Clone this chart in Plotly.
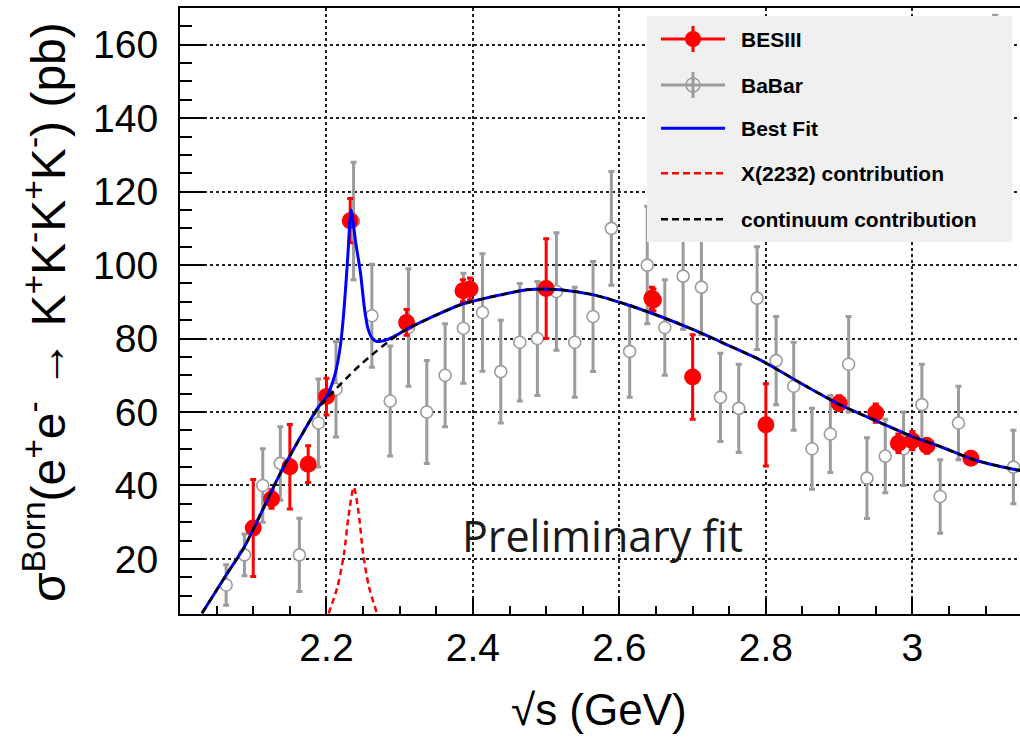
import plotly.graph_objects as go

# ---------------- data ----------------
# BESIII measurements: sqrt(s) [GeV], cross section [pb], uncertainty [pb]
bes_x = [2.1000, 2.1250, 2.1500, 2.1750, 2.2000, 2.2324, 2.3094, 2.3864, 2.3960, 2.5000,
         2.6444, 2.6464, 2.7000, 2.8000, 2.9000, 2.9500, 2.9810, 3.0000, 3.0200, 3.0800]
bes_y = [28.4, 36.3, 45.1, 45.8, 64.2, 112.1, 84.4, 93.0, 93.5, 93.6,
         91.0, 90.5, 69.5, 56.5, 62.4, 59.7, 51.5, 52.2, 50.8, 47.4]
bes_err = [13.2, 2.5, 11.5, 5.0, 5.0, 6.0, 3.5, 3.0, 3.0, 13.6,
           3.0, 3.0, 11.5, 11.2, 2.0, 2.5, 2.5, 2.5, 2.0, 1.5]

# BaBar measurements
babar_x = [2.063, 2.088, 2.113, 2.137, 2.163, 2.189, 2.213, 2.237, 2.262, 2.287,
           2.312, 2.337, 2.362, 2.387, 2.413, 2.438, 2.464, 2.488, 2.514, 2.539,
           2.564, 2.589, 2.614, 2.638, 2.662, 2.687, 2.712, 2.738, 2.763, 2.788,
           2.814, 2.838, 2.863, 2.888, 2.913, 2.938, 2.963, 2.988, 3.013, 3.038,
           3.063, 3.113, 3.138]
babar_y = [12.9, 21.1, 40.0, 46.0, 21.1, 57.0, 66.2, 112.0, 86.2, 63.0,
           83.0, 60.0, 70.0, 82.8, 87.1, 71.0, 79.0, 80.0, 92.8, 79.0,
           86.0, 110.0, 76.5, 100.0, 83.0, 97.0, 94.0, 64.0, 61.0, 91.0,
           74.0, 67.0, 50.0, 54.0, 73.0, 42.0, 48.0, 50.0, 62.0, 37.0,
           57.0, 145.0, 45.0]
babar_err = [5.5, 5.7, 10.0, 10.0, 10.0, 12.0, 13.0, 16.0, 14.0, 15.0,
             16.0, 14.0, 14.0, 15.0, 16.0, 14.0, 16.0, 15.5, 16.0, 15.0,
             15.0, 15.5, 12.5, 16.0, 13.0, 14.5, 13.0, 12.0, 12.0, 14.0,
             12.0, 12.0, 11.0, 10.5, 13.0, 11.0, 10.0, 10.0, 11.0, 10.0,
             10.0, 23.0, 10.0]

# continuum component of the fit
cont_x = [2.030, 2.063, 2.088, 2.137, 2.187, 2.201, 2.246, 2.301, 2.383, 2.438,
          2.474, 2.519, 2.565, 2.611, 2.656, 2.701, 2.747, 2.792, 2.856, 2.902,
          2.947, 3.000, 3.038, 3.084, 3.138, 3.150]
cont_y = [5.2, 15.6, 23.3, 43.3, 60.6, 63.8, 72.8, 81.5, 89.2, 91.9,
          93.3, 93.3, 91.9, 89.2, 86.0, 82.4, 78.3, 74.2, 66.9, 61.9,
          57.9, 53.3, 50.6, 47.0, 44.4, 44.0]

# total fit (continuum + X(2232) with interference)
fit_x = [2.030, 2.063, 2.088, 2.137, 2.187, 2.201, 2.212, 2.219, 2.224, 2.229,
         2.2337, 2.2400, 2.2464, 2.2520, 2.2570, 2.2624, 2.269, 2.283, 2.2965, 2.310,
         2.383, 2.438, 2.474, 2.519, 2.565, 2.611, 2.656, 2.701, 2.747, 2.792,
         2.856, 2.902, 2.947, 3.000, 3.038, 3.084, 3.138, 3.150]
fit_y = [5.2, 15.6, 23.3, 43.3, 60.8, 64.5, 70.5, 78.0, 88.0, 102.0,
         115.0, 106.0, 98.0, 88.0, 82.5, 80.1, 79.2, 79.7, 81.0, 82.6,
         89.2, 91.9, 93.3, 93.3, 91.9, 89.2, 86.0, 82.4, 78.3, 74.2,
         66.9, 61.9, 57.9, 53.3, 50.6, 47.0, 44.4, 44.0]

# X(2232) resonance contribution
res_x = [2.203, 2.215, 2.224, 2.230, 2.2373, 2.244, 2.250, 2.258, 2.269]
res_y = [5.2, 12.4, 21.5, 31.5, 39.5, 32.4, 21.5, 12.4, 5.2]

x_tickvals = [2.2, 2.4, 2.6, 2.8, 3.0]
x_ticktext = ["2.2", "2.4", "2.6", "2.8", "3"]
y_tickvals = [20, 40, 60, 80, 100, 120, 140, 160]

legend_labels = ["BESIII", "BaBar", "Best Fit", "X(2232) contribution", "continuum contribution"]

# ---------------- figure ----------------
FONT = "Liberation Sans, Arial, Helvetica, sans-serif"
GRAY = "#9c9c9c"

fig = go.Figure()

fig.add_trace(go.Scatter(
    x=babar_x, y=babar_y, mode="markers",
    marker=dict(symbol="circle", size=12, color="white", line=dict(color=GRAY, width=1.6)),
    error_y=dict(type="data", array=babar_err, color=GRAY, thickness=3, width=3),
    showlegend=False,
))

fig.add_trace(go.Scatter(
    x=bes_x, y=bes_y, mode="markers",
    marker=dict(symbol="circle", size=17, color="#ff0000"),
    error_y=dict(type="data", array=bes_err, color="#ff0000", thickness=3, width=3),
    showlegend=False,
))

fig.add_trace(go.Scatter(
    x=fit_x, y=fit_y, mode="lines",
    line=dict(color="#0000ff", width=3, shape="spline", smoothing=0.7),
    showlegend=False,
))

fig.add_trace(go.Scatter(
    x=cont_x, y=cont_y, mode="lines",
    line=dict(color="black", width=2.5, dash="7px,5px", shape="spline", smoothing=0.7),
    showlegend=False,
))

fig.add_trace(go.Scatter(
    x=res_x, y=res_y, mode="lines",
    line=dict(color="#ff0000", width=2.5, dash="6px,4px", shape="spline", smoothing=0.8),
    showlegend=False,
))

# ---------------- legend box (drawn by hand to show error-bar glyphs) ----------------
L, T, PW, PH = 180, 8, 840, 606


def px(xp):
    return (xp - L) / PW


def py(yp):
    return (T + PH - yp) / PH


shapes = [dict(type="rect", xref="paper", yref="paper",
               x0=px(647), x1=px(1012), y0=py(242), y1=py(16),
               fillcolor="#f0f0f0", line=dict(width=0), layer="above")]
annotations = []

row_y = [39, 85, 128.3, 173.3, 219.3]
lx0, lx1, lmid = px(661), px(725), px(693)

# BESIII glyph
yy = py(row_y[0])
shapes += [
    dict(type="line", xref="paper", yref="paper", x0=lx0, x1=lx1, y0=yy, y1=yy,
         line=dict(color="#ff0000", width=3), layer="above"),
    dict(type="line", xref="paper", yref="paper", ysizemode="pixel", yanchor=yy,
         x0=lmid, x1=lmid, y0=-13, y1=13, line=dict(color="#ff0000", width=3), layer="above"),
    dict(type="circle", xref="paper", yref="paper", xsizemode="pixel", ysizemode="pixel",
         xanchor=lmid, yanchor=yy, x0=-8, x1=8, y0=-8, y1=8,
         fillcolor="#ff0000", line=dict(width=0), layer="above"),
]
# BaBar glyph
yy = py(row_y[1])
shapes += [
    dict(type="line", xref="paper", yref="paper", x0=lx0, x1=lx1, y0=yy, y1=yy,
         line=dict(color=GRAY, width=3), layer="above"),
    dict(type="line", xref="paper", yref="paper", ysizemode="pixel", yanchor=yy,
         x0=lmid, x1=lmid, y0=-13, y1=13, line=dict(color=GRAY, width=3), layer="above"),
    dict(type="circle", xref="paper", yref="paper", xsizemode="pixel", ysizemode="pixel",
         xanchor=lmid, yanchor=yy, x0=-7, x1=7, y0=-7, y1=7,
         line=dict(color=GRAY, width=1.6), layer="above"),
]
# line glyphs
for i, (col, dash, w) in zip([2, 3, 4], [("#0000ff", "solid", 3),
                                          ("#ff0000", "7px,4px", 2.5),
                                          ("black", "7px,4px", 2.5)]):
    yy = py(row_y[i])
    shapes.append(dict(type="line", xref="paper", yref="paper", x0=lx0, x1=lx1, y0=yy, y1=yy,
                       line=dict(color=col, width=w, dash=dash), layer="above"))

for lab, ry in zip(legend_labels, row_y):
    annotations.append(dict(text=f"<b>{lab}</b>", xref="paper", yref="paper",
                            x=px(739), y=py(ry), xanchor="left", yanchor="middle",
                            showarrow=False, font=dict(family=FONT, size=21, color="black")))

# axis titles
annotations.append(dict(
    text="σ<sup>Born</sup>(e<sup>+</sup>e<sup>-</sup> → K<sup>+</sup>K<sup>-</sup>K<sup>+</sup>K<sup>-</sup>) (pb)",
    xref="paper", yref="paper", x=px(45), y=py(312), xanchor="center", yanchor="middle",
    textangle=-90, showarrow=False, font=dict(family=FONT, size=48, color="black")))
annotations.append(dict(
    text="√s (GeV)", xref="paper", yref="paper", x=px(599), y=py(709),
    xanchor="center", yanchor="middle", showarrow=False,
    font=dict(family=FONT, size=44, color="black")))

# note printed inside the frame
annotations.append(dict(
    text="Preliminary fit", xref="paper", yref="paper", x=px(602), y=py(535),
    xanchor="center", yanchor="middle", showarrow=False,
    font=dict(family="Open Sans, Noto Sans, sans-serif", size=43, color="#1a1a1a")))

axis_common = dict(
    showline=True, linecolor="black", linewidth=2,
    ticks="inside", tickcolor="black", tickwidth=1.5,
    showgrid=True, gridcolor="#222222", gridwidth=1.5, griddash="dot",
    zeroline=False,
    tickfont=dict(family=FONT, size=39, color="black"),
)

fig.update_layout(
    width=1020, height=738,
    margin=dict(l=L, r=0, t=T, b=738 - T - PH),
    paper_bgcolor="white", plot_bgcolor="white",
    showlegend=False,
    shapes=shapes, annotations=annotations,
    xaxis=dict(axis_common, range=[2.0, 3.147], tickvals=x_tickvals, ticktext=x_ticktext,
               ticklen=16, mirror=True, ticklabelstandoff=-2,
               minor=dict(dtick=0.05, tick0=2.0, ticks="inside", ticklen=8,
                          tickwidth=1.5, tickcolor="black", showgrid=False)),
    yaxis=dict(axis_common, range=[5, 170], tickvals=y_tickvals,
               ticklen=25, mirror=False, ticklabelstandoff=12,
               minor=dict(dtick=5, tick0=0, ticks="inside", ticklen=12,
                          tickwidth=1.5, tickcolor="black", showgrid=False)),
)

fig.write_html("out.html")
